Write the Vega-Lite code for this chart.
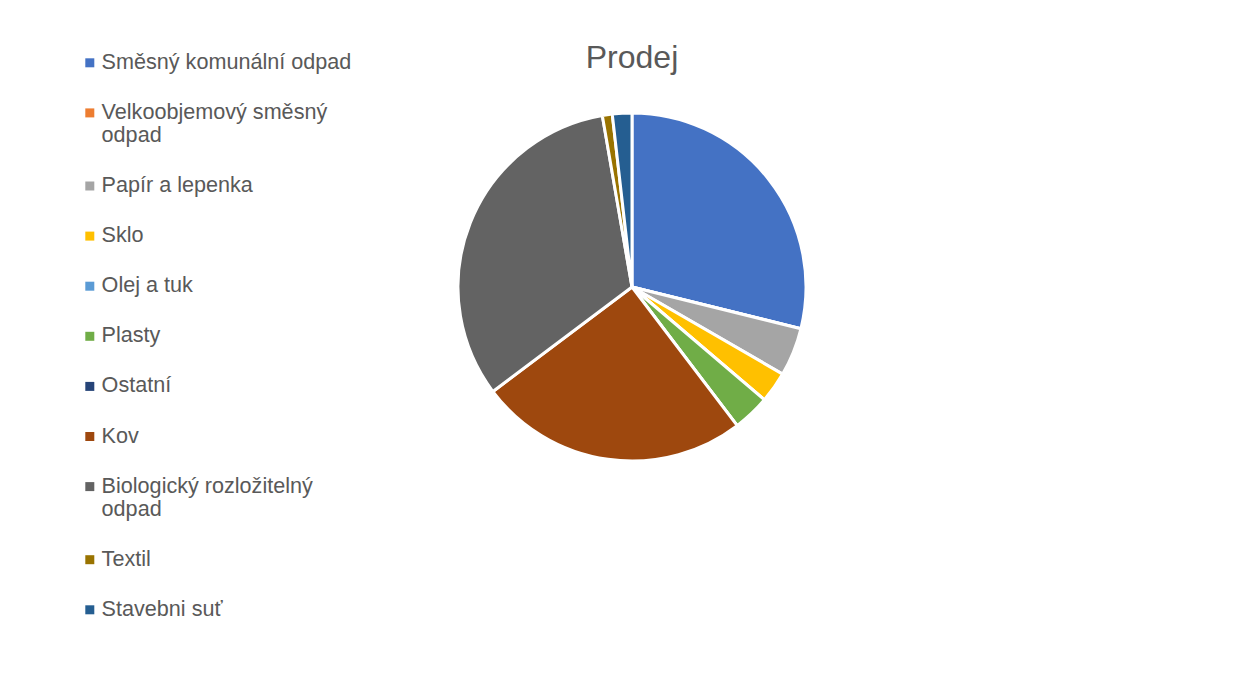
{
  "$schema": "https://vega.github.io/schema/vega-lite/v6.json",
  "autosize": {"type": "none"},
  "padding": {"left": 16, "top": 0, "right": 0, "bottom": 103},
  "width": 1232,
  "height": 574,
  "background": "#ffffff",
  "title": {
    "text": "Prodej",
    "font": "Liberation Sans",
    "fontSize": 32,
    "fontWeight": "normal",
    "color": "#595959",
    "anchor": "middle",
    "frame": "group",
    "offset": -75
  },
  "config": {"view": {"stroke": null}},
  "data": {
    "values": [
      {"kategorie": "Směsný komunální odpad", "podil": 28.86, "poradi": 1},
      {"kategorie": "Velkoobjemový směsný odpad", "podil": 0, "poradi": 2},
      {"kategorie": "Papír a lepenka", "podil": 4.49, "poradi": 3},
      {"kategorie": "Sklo", "podil": 2.88, "poradi": 4},
      {"kategorie": "Olej a tuk", "podil": 0, "poradi": 5},
      {"kategorie": "Plasty", "podil": 3.44, "poradi": 6},
      {"kategorie": "Ostatní", "podil": 0, "poradi": 7},
      {"kategorie": "Kov", "podil": 25.08, "poradi": 8},
      {"kategorie": "Biologický rozložitelný odpad", "podil": 32.53, "poradi": 9},
      {"kategorie": "Textil", "podil": 0.92, "poradi": 10},
      {"kategorie": "Stavebni suť", "podil": 1.81, "poradi": 11}
    ]
  },
  "mark": {"type": "arc", "outerRadius": 174, "stroke": "#ffffff", "strokeWidth": 3},
  "encoding": {
    "theta": {"field": "podil", "type": "quantitative", "stack": true},
    "order": {"field": "poradi", "type": "quantitative"},
    "color": {
      "field": "kategorie",
      "type": "nominal",
      "scale": {
        "domain": ["Směsný komunální odpad", "Velkoobjemový směsný odpad", "Papír a lepenka", "Sklo", "Olej a tuk", "Plasty", "Ostatní", "Kov", "Biologický rozložitelný odpad", "Textil", "Stavebni suť"],
        "range": ["#4472C4", "#ED7D31", "#A5A5A5", "#FFC000", "#5B9BD5", "#70AD47", "#264478", "#9E480E", "#636363", "#997300", "#255E91"]
      },
      "legend": {
        "title": null,
        "orient": "none",
        "legendX": 63,
        "legendY": 52,
        "direction": "vertical",
        "symbolType": "square",
        "symbolSize": 81,
        "symbolStrokeWidth": 0,
        "labelFont": "Liberation Sans",
        "labelFontSize": 21.6,
        "labelColor": "#595959",
        "labelOffset": 1,
        "labelLimit": 400,
        "rowPadding": 27.1,
        "labelExpr": "datum.label == 'Velkoobjemový směsný odpad' ? ['Velkoobjemový směsný', 'odpad'] : datum.label == 'Biologický rozložitelný odpad' ? ['Biologický rozložitelný', 'odpad'] : datum.label"
      }
    }
  }
}
